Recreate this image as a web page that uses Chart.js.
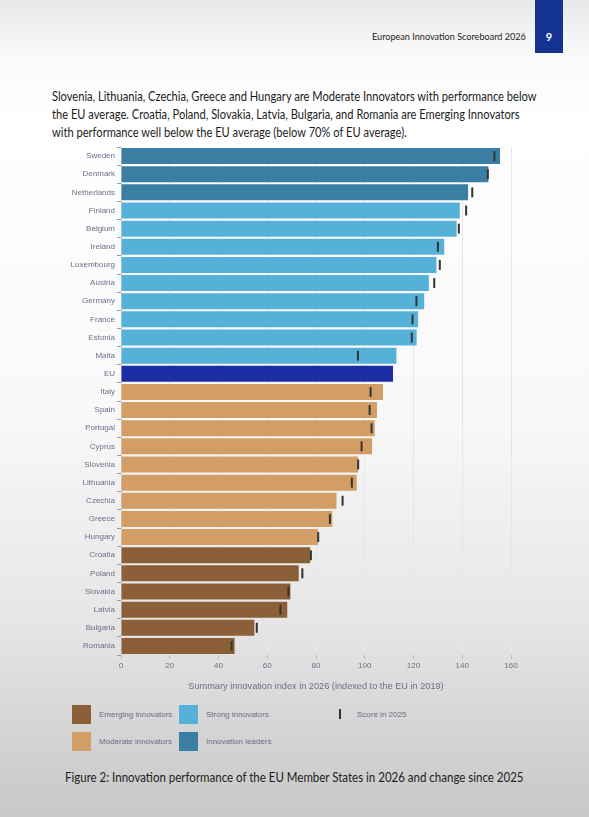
<!DOCTYPE html>
<html>
<head>
<meta charset="utf-8">
<script src="https://cdn.jsdelivr.net/npm/chart.js@4.4.1/dist/chart.umd.min.js"></script>
<style>
  html, body { margin: 0; padding: 0; }
  body {
    width: 589px; height: 817px; position: relative; overflow: hidden;
    background: linear-gradient(to bottom, #e8e8e8 0px, #fafafa 55px, #ffffff 120px, #f8f8f8 420px, #e6e6e6 620px, #d0d0d0 760px, #c8c8c8 817px);
    font-family: Lato, "Open Sans", sans-serif;
  }
  .narrow { white-space: nowrap; transform-origin: 0 0; }
  .hdr { position: absolute; top: 30px; left: 372px; font-size: 10px; color: #222; transform: scaleX(0.91); }
  .page { position: absolute; top: 0; left: 535px; width: 28px; height: 53px; background: #14328f; color: #fff; font-size: 11px; font-weight: bold; text-align: center; line-height: 74px; }
  .intro { position: absolute; top: 88px; left: 52px; font-size: 12.5px; line-height: 18px; color: #1c1c1c; transform: scaleX(0.89); }
  #wrap { position: absolute; left: 0; top: 140px; width: 589px; height: 560px; }
  .leg { position: absolute; font-family: "Liberation Sans", Arial, sans-serif; font-size: 8px; color: #6c6f85; white-space: nowrap; }
  .sw { position: absolute; width: 19px; height: 19px; }
  .caption { position: absolute; top: 770px; left: 65px; font-size: 12.5px; color: #222; transform: scaleX(0.92); }
</style>
</head>
<body>
<div class="hdr narrow">European Innovation Scoreboard 2026</div>
<div class="page">9</div>
<div class="intro narrow">Slovenia, Lithuania, Czechia, Greece and Hungary are Moderate Innovators with performance below<br>the EU average. Croatia, Poland, Slovakia, Latvia, Bulgaria, and Romania are Emerging Innovators<br>with performance well below the EU average (below 70% of EU average).</div>
<div id="wrap"><canvas id="eisChart"></canvas></div>
<div id="legend"></div>
<div class="caption narrow">Figure 2: Innovation performance of the EU Member States in 2026 and change since 2025</div>
<script>
// Lander, Werte 2026 (Balken) und 2025 (Strich)
const countries = ['Sweden', 'Denmark', 'Netherlands', 'Finland', 'Belgium', 'Ireland', 'Luxembourg', 'Austria', 'Germany', 'France', 'Estonia', 'Malta', 'EU', 'Italy', 'Spain', 'Portugal', 'Cyprus', 'Slovenia', 'Lithuania', 'Czechia', 'Greece', 'Hungary', 'Croatia', 'Poland', 'Slovakia', 'Latvia', 'Bulgaria', 'Romania'];
const score2026 = [155.5, 150.7, 142.4, 139.0, 137.7, 132.6, 129.4, 126.3, 124.4, 121.9, 121.3, 113.0, 111.6, 107.5, 105.0, 104.1, 103.0, 97.3, 96.7, 88.4, 86.7, 80.8, 77.6, 72.9, 69.5, 68.2, 54.7, 46.6];
const score2025 = [153.2, 150.5, 144.1, 141.6, 138.6, 130.0, 130.8, 128.5, 121.2, 119.6, 119.3, 97.2, null, 102.4, 102.0, 102.8, 98.7, 97.3, 94.7, 90.9, 85.7, 80.9, 77.9, 74.4, 68.7, 65.4, 55.7, 45.4];
const groups = ['leader', 'leader', 'leader', 'strong', 'strong', 'strong', 'strong', 'strong', 'strong', 'strong', 'strong', 'strong', 'eu', 'moderate', 'moderate', 'moderate', 'moderate', 'moderate', 'moderate', 'moderate', 'moderate', 'moderate', 'emerging', 'emerging', 'emerging', 'emerging', 'emerging', 'emerging'];
const xTicks = [0, 20, 40, 60, 80, 100, 120, 140, 160];

const groupColors = { leader: '#3a7fa3', strong: '#56b1d9', eu: '#1b2ea4', moderate: '#d39e65', emerging: '#8b5f37' };
const legendItems = [
    { label: 'Emerging innovators', key: 'emerging', left: 72, top: 705 },
    { label: 'Moderate innovators', key: 'moderate', left: 72, top: 732 },
    { label: 'Strong innovators', key: 'strong', left: 179, top: 705 },
    { label: 'Innovation leaders', key: 'leader', left: 179, top: 732 }
];

const axisGrey = '#6b6f88';

new Chart(document.getElementById('eisChart').getContext('2d'), {
    type: 'bar',
    data: {
        labels: countries,
        datasets: [
            {
                label: 'Score in 2026',
                data: score2026,
                backgroundColor: groups.map(g => groupColors[g]),
                borderWidth: 0,
                categoryPercentage: 0.88,
                barPercentage: 1,
                order: 2
            },
            {
                type: 'scatter',
                label: 'Score in 2025',
                data: countries.map((c, i) => score2025[i] === null ? null : { x: score2025[i], y: c }).filter(d => d),
                pointStyle: 'line',
                rotation: 90,
                radius: 5,
                borderColor: '#333333',
                borderWidth: 2,
                order: 1
            }
        ]
    },
    options: {
        indexAxis: 'y',
        responsive: true,
        maintainAspectRatio: false,
        animation: false,
        layout: { padding: { top: 3, right: 78, bottom: 0, left: 0 } },
        plugins: { legend: { display: false }, tooltip: { enabled: false } },
        scales: {
            x: {
                type: 'linear',
                min: 0, max: 160,
                afterBuildTicks: (scale) => { scale.ticks = xTicks.map(v => ({ value: v })); },
                afterFit: (scale) => { scale.height = 45; },
                grid: { color: '#e6e6ea', tickLength: 4, tickColor: '#b8b8c0' },
                border: { display: false },
                ticks: { color: axisGrey, padding: 2, font: { family: 'Liberation Sans', size: 8 } },
                title: {
                    display: true,
                    text: 'Summary innovation index in 2026 (indexed to the EU in 2019)',
                    color: axisGrey,
                    font: { family: 'Liberation Sans', size: 9.2 },
                    padding: { top: 4, bottom: 8 }
                }
            },
            y: {
                type: 'category',
                afterFit: (scale) => { scale.width = 121; },
                grid: { drawOnChartArea: false, tickLength: 4, tickColor: '#9a9aa8' },
                border: { display: true, color: '#d4d4dc' },
                ticks: { color: axisGrey, padding: 2, autoSkip: false, font: { family: 'Liberation Sans', size: 8 } }
            }
        }
    }
});

// Legende wie im Bericht: 2x2 Felder plus Strich
const legendBox = document.getElementById('legend');
legendItems.forEach(item => {
    const sw = document.createElement('div');
    sw.className = 'sw';
    sw.style.left = item.left + 'px';
    sw.style.top = item.top + 'px';
    sw.style.background = groupColors[item.key];
    legendBox.appendChild(sw);
    const txt = document.createElement('div');
    txt.className = 'leg';
    txt.style.left = (item.left + 27) + 'px';
    txt.style.top = (item.top + 5) + 'px';
    txt.innerText = item.label;
    legendBox.appendChild(txt);
});
const mark = document.createElement('div');
mark.style.cssText = 'position:absolute;left:339px;top:709px;width:2px;height:10px;background:#333;';
legendBox.appendChild(mark);
const markTxt = document.createElement('div');
markTxt.className = 'leg';
markTxt.style.left = '357px';
markTxt.style.top = '710px';
markTxt.innerText = 'Score in 2025';
legendBox.appendChild(markTxt);
</script>
</body>
</html>
